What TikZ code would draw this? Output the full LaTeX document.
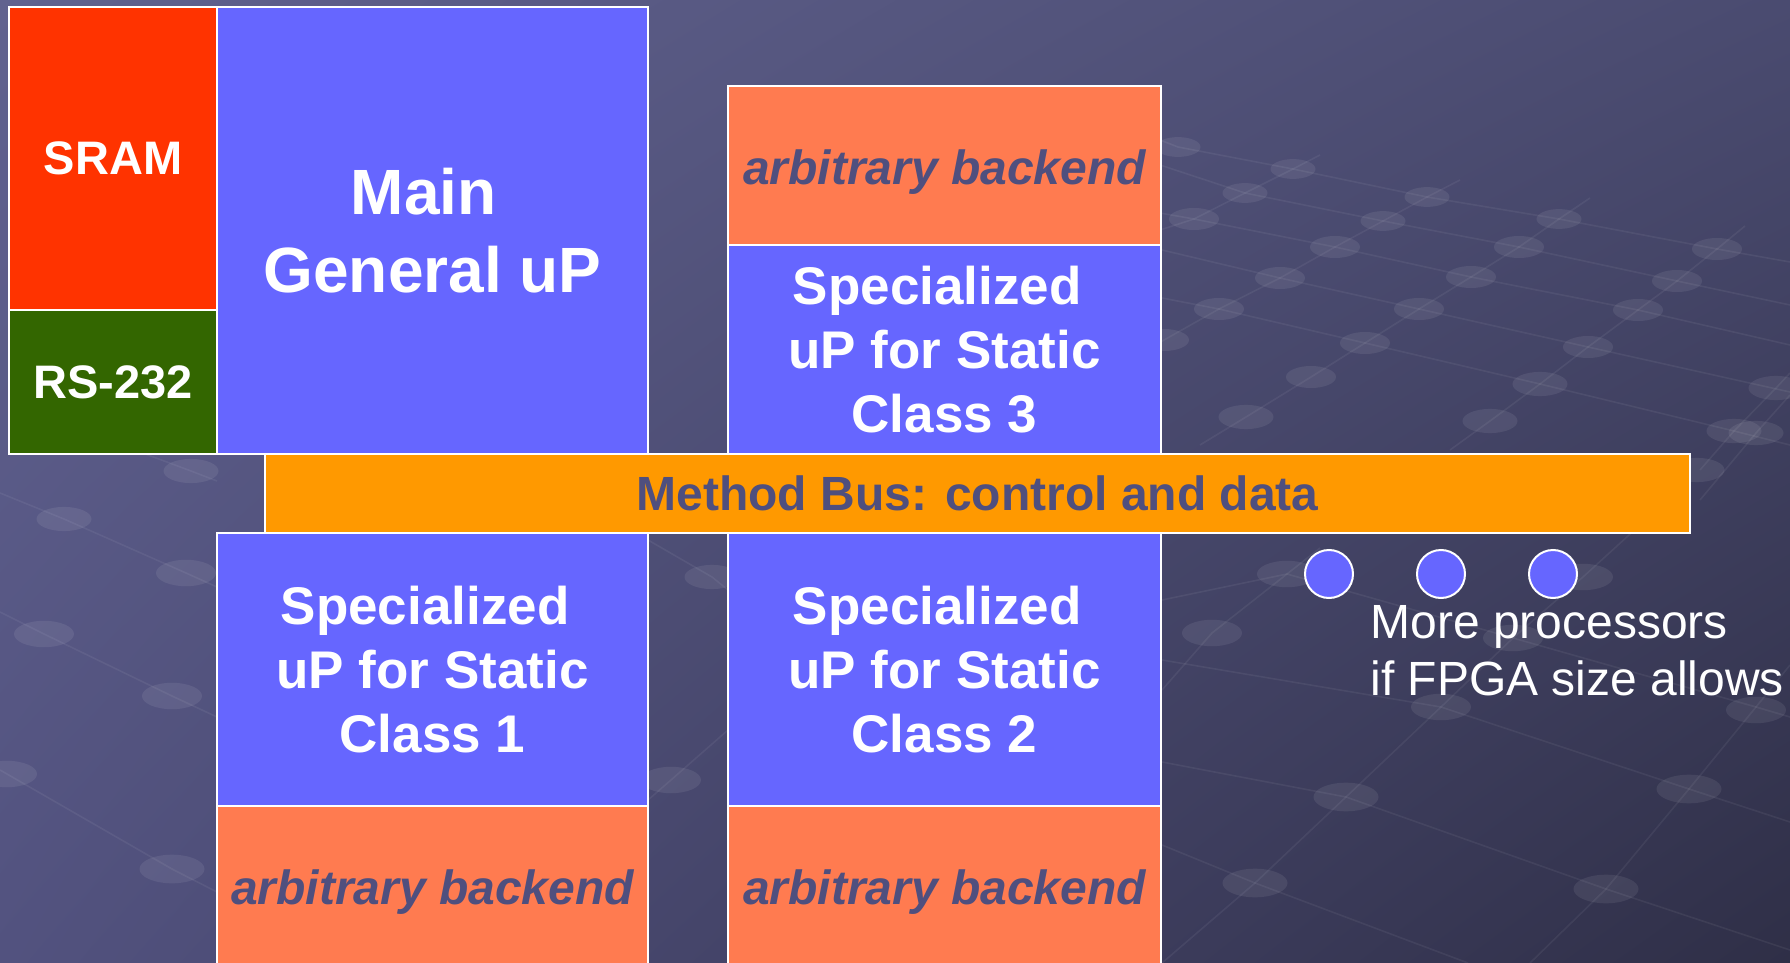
\documentclass[tikz,border=0pt]{standalone}
\usepackage{fontspec}
\setmainfont{Liberation Sans}
\usetikzlibrary{shadings}
\definecolor{bgUL}{HTML}{61628F}
\definecolor{bgUR}{HTML}{4A4B70}
\definecolor{bgLL}{HTML}{52527F}
\definecolor{bgLR}{HTML}{2F2F47}
\definecolor{upblue}{HTML}{6666FF}
\definecolor{sramred}{HTML}{FF3300}
\definecolor{rsgreen}{HTML}{336600}
\definecolor{coral}{HTML}{FF7B50}
\definecolor{busorange}{HTML}{FF9900}
\definecolor{slate}{HTML}{4F4F7E}
\newcommand{\tsp}{\hspace*{0.278em}}
\begin{document}
\begin{tikzpicture}[x=0.5pt,y=-0.5pt,
  box/.style={draw=white,line width=1pt,inner sep=0pt,outer sep=0pt,align=center},
  upbox/.style={box,fill=upblue,text=white,minimum width=#1,font=\fontsize{26.5}{32}\selectfont\bfseries},
  bebox/.style={box,fill=coral,text=slate,minimum width=#1,minimum height=79.5pt,text depth=0pt,font=\fontsize{24}{28}\selectfont\bfseries\itshape},
  dotnode/.style={circle,draw=white,line width=1pt,fill=upblue,minimum size=24pt,inner sep=0pt},
  bgline/.style={draw=white,draw opacity=0.06,line width=0.8pt},
  bgdot/.style={fill=white,fill opacity=0.08},
]
% background
\shade[upper left=bgUL,upper right=bgUR,lower left=bgLL,lower right=bgLR] (0,0) rectangle (1790,963);
\useasboundingbox (0,0) rectangle (1790,963);
% background network (right, upper)
\path[bgline] (1140,355) -- (1164,340) -- (1219,309) -- (1280,278) -- (1335,247) -- (1383,221) -- (1427,197) -- (1460,180);
\path[bgline] (1200,445) -- (1246,417) -- (1311,377) -- (1365,343) -- (1419,309) -- (1471,277) -- (1519,247) -- (1559,219) -- (1590,198);
\path[bgline] (1450,450) -- (1490,421) -- (1540,384) -- (1588,347) -- (1638,310) -- (1677,281) -- (1717,249) -- (1745,226);
\path[bgline] (1160,230) -- (1194,219) -- (1245,193) -- (1293,169) -- (1320,155);
\path[bgline] (1700,470) -- (1734,431) -- (1776,388) -- (1790,373);
\path[bgline] (1160,140) -- (1178,147) -- (1293,169) -- (1427,197) -- (1559,219) -- (1717,249) -- (1790,262);
\path[bgline] (1160,165) -- (1245,193) -- (1383,221) -- (1519,247) -- (1677,281) -- (1790,305);
\path[bgline] (1160,213) -- (1194,219) -- (1335,247) -- (1471,277) -- (1638,310) -- (1790,345);
\path[bgline] (1162,250) -- (1280,278) -- (1419,309) -- (1588,347) -- (1790,392);
\path[bgline] (1162,298) -- (1219,309) -- (1365,343) -- (1540,384) -- (1734,431) -- (1790,445);
% background network (right, lower)
\path[bgline] (1162,963) -- (1255,883) -- (1346,797) -- (1441,707) -- (1513,638) -- (1583,577) -- (1640,525);
\path[bgline] (1530,963) -- (1606,889) -- (1689,789) -- (1756,707) -- (1790,665);
\path[bgline] (1162,690) -- (1212,633) -- (1287,574) -- (1320,548);
\path[bgline] (1700,500) -- (1756,433) -- (1790,395);
\path[bgline] (1162,845) -- (1255,883) -- (1468,963);
\path[bgline] (1162,762) -- (1346,797) -- (1606,889) -- (1790,950);
\path[bgline] (1162,660) -- (1441,707) -- (1689,789) -- (1790,822);
\path[bgline] (1162,600) -- (1287,574) -- (1513,638) -- (1756,707) -- (1790,717);
% background network (left)
\path[bgline] (0,493) -- (64,519) -- (186,573) -- (217,587);
\path[bgline] (0,612) -- (44,634) -- (172,696) -- (217,717);
\path[bgline] (0,770) -- (7,774) -- (172,869) -- (217,892);
\path[bgline] (140,452) -- (191,471) -- (217,481);
\path[bgline] (648,540) -- (712,577) -- (728,590);
\path[bgline] (648,800) -- (671,780) -- (728,730);
% dots
\foreach \p/\a/\b in {1178/147/9,1293/169/9,1245/193/9,1194/219/10,1427/197/9,1383/221/9,1335/247/10,1280/278/10,1219/309/10,1164/340/10,
  1559/219/9,1519/247/10,1471/277/10,1419/309/10,1365/343/10,1311/377/10,1246/417/11,
  1717/249/10,1677/281/10,1638/310/10,1588/347/10,1540/384/11,1490/421/11,1776/388/11,1734/431/11,
  1441/707/12,1346/797/13,1255/883/13,1756/710/12,1689/789/13,1606/889/13,
  1287/574/12,1212/633/12,1583/577/12,1513/638/12,1756/433/11,1697/470/11,
  191/471/11,64/519/11,186/573/12,44/634/12,172/696/12,7/774/12,172/869/13,712/577/11,671/780/12}
  {\fill[bgdot] (\p,\a) ellipse ({1.25*\b pt} and {0.55*\b pt});}
% boxes
\node[box,fill=sramred,text=white,minimum width=104pt,minimum height=151.5pt,font=\fontsize{23.5}{28}\selectfont\bfseries] (sram) at (113,158.5) {SRAM};
\node[box,fill=rsgreen,text=white,minimum width=104pt,minimum height=72pt,font=\fontsize{23.5}{28}\selectfont\bfseries] (rs) at (113,382) {RS-232};
\node[box,fill=upblue,text=white,minimum width=215.5pt,minimum height=223.5pt,font=\fontsize{32}{39}\selectfont\bfseries] (main) at (432.5,230.5) {Main\tsp\\General uP};
\node[bebox=216.5pt] (be3) at (944.5,165.5) {\raisebox{-2pt}{arbitrary backend}};
\node[upbox=216.5pt,minimum height=104.5pt] (c3) at (944.5,349.5) {Specialized\tsp\\uP for Static\\Class 3};
\node[box,fill=busorange,text=slate,minimum width=712.5pt,minimum height=39.5pt,font=\fontsize{24}{28}\selectfont\bfseries] (bus) at (977.5,493.5) {Method Bus: control and data};
\node[upbox=215.5pt,minimum height=136.5pt] (c1) at (432.5,669.5) {Specialized\tsp\\uP for Static\\Class 1};
\node[bebox=215.5pt] (be1) at (432.5,885.5) {\raisebox{-2pt}{arbitrary backend}};
\node[upbox=216.5pt,minimum height=136.5pt] (c2) at (944.5,669.5) {Specialized\tsp\\uP for Static\\Class 2};
\node[bebox=216.5pt] (be2) at (944.5,885.5) {\raisebox{-2pt}{arbitrary backend}};
% more processors
\node[dotnode] (d1) at (1329,574) {};
\node[dotnode] (d2) at (1441,574) {};
\node[dotnode] (d3) at (1553,574) {};
\node[anchor=north west,inner sep=0pt,align=left,text=white,font=\fontsize{24}{28.5}\selectfont] (more) at (1370,605) {More processors\\if FPGA size allows};
\end{tikzpicture}
\end{document}
